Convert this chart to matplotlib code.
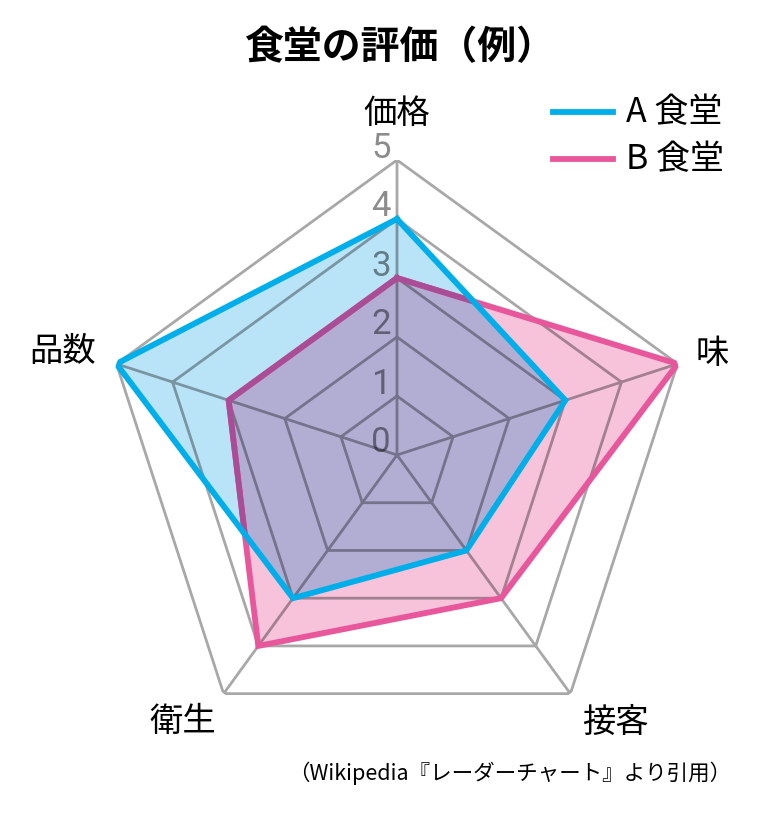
import numpy as np
import matplotlib
matplotlib.use("Agg")
import matplotlib.pyplot as plt
import matplotlib.colors as mcolors
from matplotlib.transforms import offset_copy

plt.rcParams['font.family'] = ['Noto Sans CJK JP', 'DejaVu Sans']

# ---- data ----
categories = ['価格', '味', '接客', '衛生', '品数']
series_names = ['A 食堂', 'B 食堂']
values_a = [4, 3, 2, 3, 5]
values_b = [3, 5, 3, 4, 3]
levels = [0, 1, 2, 3, 4, 5]
title = '食堂の評価（例）'
note = '（Wikipedia『レーダーチャート』より引用）'

# ---- styles ----
col_a_line = '#00AEEA'
col_b_line = '#E8579B'
col_a_fill = np.array(mcolors.to_rgb('#B9E3F7'))
col_b_fill = np.array(mcolors.to_rgb('#F6C3DA'))
col_overlap = col_a_fill * col_b_fill            # multiply blend
col_b_in_a = np.array(mcolors.to_rgb(col_b_line)) * col_a_fill

W, H = 757, 816
fig = plt.figure(figsize=(W / 100, H / 100), dpi=100)
cx, cy, R = 397, 455, 295
ax = fig.add_axes([(cx - R) / W, (H - cy - R) / H, 2 * R / W, 2 * R / H],
                  projection='polar')
ax.set_theta_zero_location('N')
ax.set_theta_direction(-1)
ax.set_ylim(0, 5)
ax.grid(False)
ax.set_xticks([])
ax.set_yticks([])
ax.spines['polar'].set_visible(False)
ax.patch.set_visible(False)

n = len(categories)
ang = np.linspace(0, 2 * np.pi, n, endpoint=False)
ang_c = np.concatenate([ang, ang[:1]])
va = np.concatenate([values_a, values_a[:1]])
vb = np.concatenate([values_b, values_b[:1]])

# fills
fb = ax.fill(ang_c, vb, color=col_b_fill, lw=0, zorder=1)[0]
fa = ax.fill(ang_c, va, color=col_a_fill, lw=0, zorder=1.2)[0]
fo = ax.fill(ang_c, vb, color=col_overlap, lw=0, zorder=1.5)[0]
fo.set_clip_path(fa)

# grid as one path (translucent black -> multiply look, no double overlap)
gt, gr = [], []
for lv in levels[1:]:
    gt += list(ang_c) + [np.nan]
    gr += [lv] * (n + 1) + [np.nan]
for a in ang:
    gt += [a, a, np.nan]
    gr += [0, levels[-1], np.nan]
ax.plot(gt, gr, color='black', alpha=0.34, lw=2.0, zorder=2,
        solid_joinstyle='miter')

# series lines
ax.plot(ang_c, vb, color=col_b_line, lw=4.2, zorder=3, solid_joinstyle='miter')
lb2, = ax.plot(ang_c, vb, color=col_b_in_a, lw=4.2, zorder=3.5, solid_joinstyle='miter')
lb2.set_clip_path(fa)
ax.plot(ang_c, va, color=col_a_line, lw=4.2, zorder=4, solid_joinstyle='miter')

# level numbers
tr = offset_copy(ax.transData, fig=fig, x=-16, y=12, units='dots')
for lv in levels:
    ax.text(0, lv, str(lv), transform=tr, ha='center', va='center',
            fontsize=25, color='black', alpha=0.45, zorder=5,
            family=['Roboto', 'DejaVu Sans'], fontweight='normal')

# category labels
lab_pos = [(397, 113), (712, 353), (615, 722), (183, 722), (63, 352)]
for c, (px, py) in zip(categories, lab_pos):
    fig.text(px / W, 1 - py / H, c, ha='center', va='center', fontsize=24)

# title
fig.text(400 / W, 1 - 48 / H, title, ha='center', va='center',
         fontsize=28, fontweight='bold')

# legend
for name, col, py in zip(series_names, [col_a_line, col_b_line], [112, 159]):
    fig.add_artist(plt.Line2D([553 / W, 613 / W], [1 - py / H, 1 - py / H],
                              color=col, lw=4.2, transform=fig.transFigure))
    fig.text(626 / W, 1 - (py + 1) / H, name, ha='left', va='center', fontsize=24.5)

# note
fig.text(731 / W, 1 - 773 / H, note, ha='right', va='center', fontsize=15.5)

fig.savefig('out.png', dpi=100)
